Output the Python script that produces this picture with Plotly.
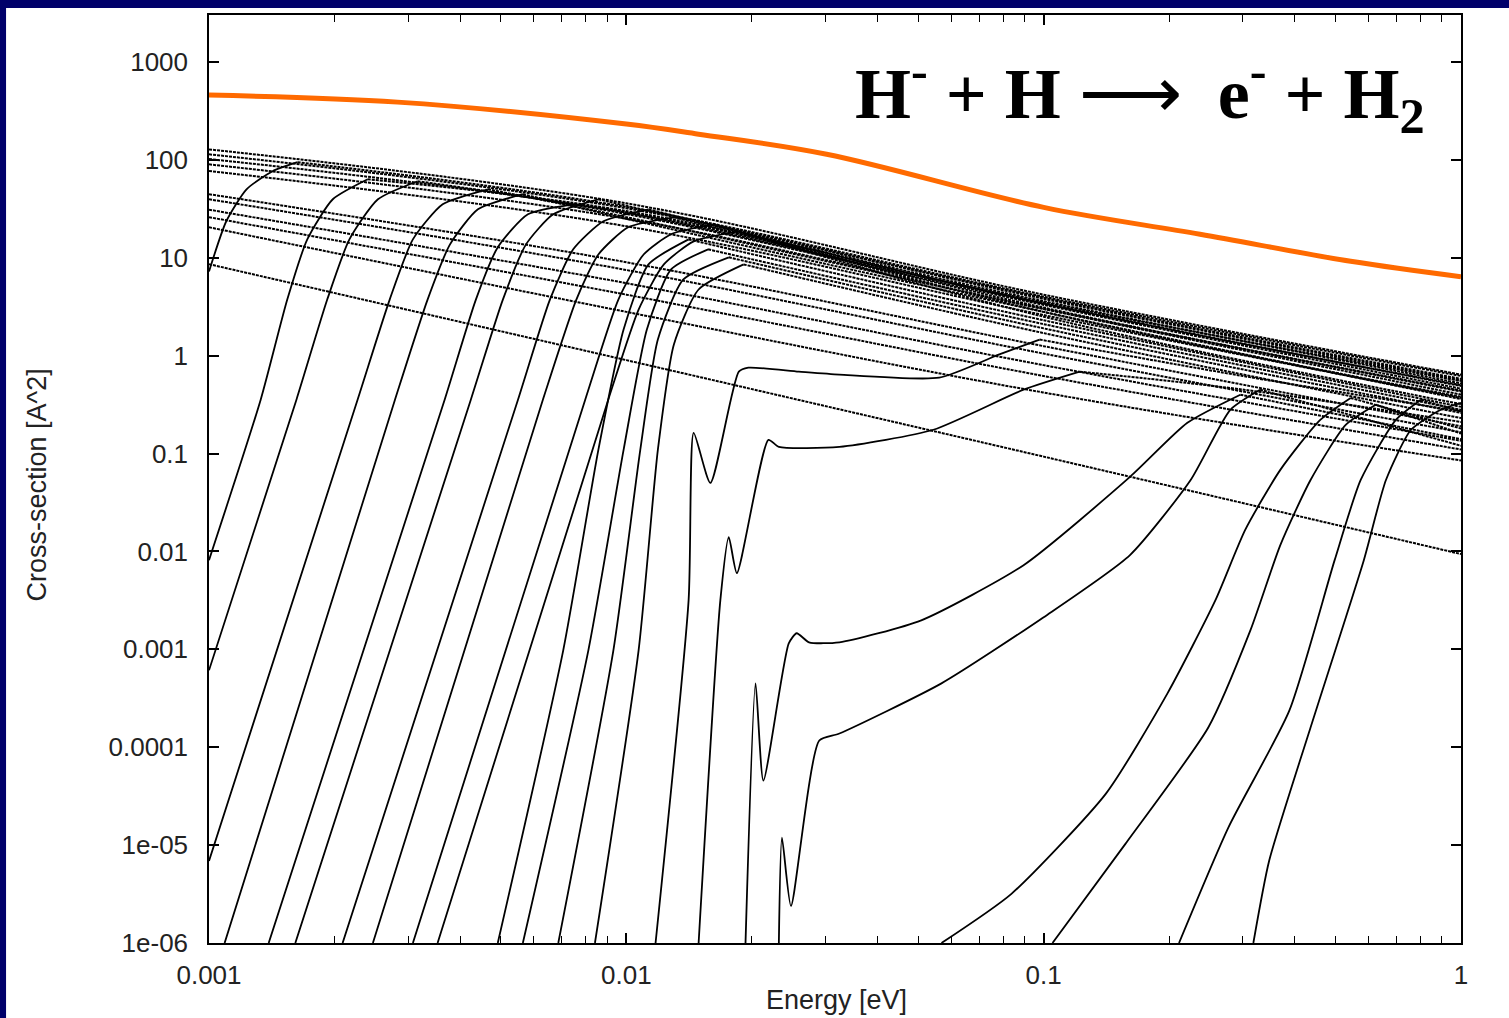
import math
import plotly.graph_objects as go

# ---------------- data (energy in eV, cross-section in A^2) ----------------
E_TOTAL = [0.001, 0.00283, 0.01, 0.0149, 0.0302, 0.1, 0.237, 0.544, 1.0]
SIG_TOTAL = [459, 389, 232, 183, 114, 32.7, 17.4, 9.2, 6.4]

# open-channel background lines (dashed), sampled at these energies
E_BAND = [0.001, 0.01, 0.1, 1.0]
SIG_BAND = [
    [128, 36, 4.2, 0.64],
    [114, 32, 3.8, 0.56],
    [102, 29, 3.4, 0.49],
    [90, 25, 3.0, 0.43],
    [77, 21, 2.6, 0.37],
    [44.6, 9.0, 1.25, 0.19],
    [39.6, 7.5, 1.05, 0.165],
    [31, 5.5, 0.8, 0.135],
    [26, 4.2, 0.62, 0.11],
    [20.5, 2.8, 0.42, 0.085],
    [8.6, 0.9, 0.093, 0.0094],
]

# threshold channels, low-energy group (solid rising part)
LEFT_E = [
    [0.001, 0.00110, 0.00123, 0.00142, 0.00163],
    [0.001, 0.00133, 0.00154, 0.00172, 0.00198, 0.00240],
    [0.001, 0.00162, 0.00192, 0.00217, 0.00254, 0.00316],
    [0.001, 0.00227, 0.00271, 0.00308, 0.00363, 0.00466],
    [0.00109, 0.00279, 0.00334, 0.00378, 0.00441, 0.00565],
    [0.00139, 0.00367, 0.00436, 0.00492, 0.00581, 0.00746],
    [0.00161, 0.00424, 0.00506, 0.00575, 0.00668, 0.00857],
    [0.00209, 0.0055, 0.00656, 0.00746, 0.00881, 0.0113],
    [0.00247, 0.00631, 0.00759, 0.00857, 0.0101, 0.0130],
    [0.00308, 0.00797, 0.00957, 0.0110, 0.0128, 0.0162],
    [0.00353, 0.00905, 0.0107, 0.0123, 0.0145, 0.0186],
    [0.00492, 0.00706, 0.00857, 0.00985, 0.0113, 0.0141],
    [0.00565, 0.00811, 0.00985, 0.0112, 0.0128, 0.0157],
    [0.00687, 0.00931, 0.0108, 0.0119, 0.0137, 0.0176],
    [0.00841, 0.0107, 0.0119, 0.0130, 0.0149, 0.0191],
]
LEFT_SIG = [
    [7.25, 23.6, 50.1, 76.6, 94.7],
    [0.00815, 0.355, 3.74, 15.4, 39.6, 63.4],
    [0.00061, 0.355, 3.74, 15.4, 39.6, 60.5],
    [6.9e-6, 0.355, 3.74, 15.4, 35.2, 50.1],
    [1e-6, 0.355, 3.74, 13.7, 31.3, 44.6],
    [1e-6, 0.355, 3.74, 12.8, 27.8, 35.2],
    [1e-6, 0.355, 3.74, 13.7, 27.8, 39.6],
    [1e-6, 0.355, 3.74, 12.2, 23.6, 31.3],
    [1e-6, 0.355, 3.74, 10.8, 20.5, 25.9],
    [1e-6, 0.355, 3.74, 10.8, 17.4, 21.9],
    [1e-6, 0.355, 2.96, 8.55, 14.7, 18.6],
    [1e-6, 0.000977, 0.109, 1.85, 8.55, 15.4],
    [1e-6, 0.000977, 0.109, 1.85, 7.6, 12.2],
    [1e-6, 0.000977, 0.109, 1.46, 6.0, 10.1],
    [1e-6, 0.000977, 0.109, 1.30, 4.74, 8.55],
]
LEFT_CONT_E = [
    [0.01, 0.1, 1], [0.01, 0.1, 1], [0.01, 0.1, 1], [0.01, 0.1, 1],
    [0.01, 0.1, 1], [0.01, 0.1, 1], [0.01, 0.1, 1],
    [0.1, 1], [0.1, 1], [0.1, 1], [0.1, 1], [0.1, 1], [0.1, 1], [0.1, 1], [0.1, 1],
]
LEFT_CONT_SIG = [
    [33, 4.0, 0.62], [30, 3.6, 0.52], [28, 3.3, 0.46], [26, 3.0, 0.40],
    [25, 2.8, 0.36], [29, 3.5, 0.55], [34, 3.9, 0.58],
    [3.4, 0.50], [3.1, 0.44], [2.8, 0.38], [2.5, 0.32], [2.3, 0.30],
    [2.1, 0.28], [1.9, 0.26], [1.7, 0.23],
]

# resonance channels (inside the red box)
BOX_E = [
    [0.01175, 0.0141, 0.0145, 0.0159, 0.0186, 0.0196, 0.0259, 0.0324, 0.0562, 0.0783, 0.0978],
    [0.0149, 0.0168, 0.0176, 0.0184, 0.0219, 0.0232, 0.0324, 0.0544, 0.0895, 0.122],
    [0.0193, 0.0204, 0.0213, 0.0245, 0.0256, 0.0274, 0.0324, 0.0509, 0.0895, 0.161, 0.221, 0.296],
    [0.0232, 0.0236, 0.0248, 0.0290, 0.0324, 0.0569, 0.1, 0.161, 0.225, 0.280, 0.330],
]
BOX_SIG = [
    [1e-6, 0.00318, 0.163, 0.0501, 0.686, 0.754, 0.686, 0.640, 0.596, 1.03, 1.46],
    [1e-6, 0.00318, 0.0140, 0.0060, 0.138, 0.117, 0.117, 0.175, 0.449, 0.686],
    [1e-6, 4.49e-4, 4.56e-5, 1.15e-3, 1.46e-3, 1.18e-3, 1.18e-3, 1.98e-3, 7.24e-3, 0.0577, 0.206, 0.399],
    [1e-6, 1.19e-5, 2.39e-6, 1.17e-4, 1.38e-4, 4.49e-4, 2.13e-3, 9.18e-3, 0.0537, 0.280, 0.449],
]
BOX_CONT_E = [[0.3, 1], [0.3, 1], [1], [1]]
BOX_CONT_SIG = [[0.62, 0.27], [0.45, 0.21], [0.14], [0.12]]

# high-energy threshold channels
RIGHT_E = [
    [0.0569, 0.0837, 0.141, 0.198, 0.258, 0.304, 0.369, 0.460, 0.544],
    [0.105, 0.157, 0.248, 0.313, 0.369, 0.436, 0.530, 0.625],
    [0.211, 0.277, 0.388, 0.498, 0.575, 0.698, 0.802],
    [0.318, 0.347, 0.436, 0.585, 0.661, 0.759, 0.895, 1.0],
]
RIGHT_SIG = [
    [1e-6, 3.18e-6, 3.36e-5, 3.55e-4, 3.18e-3, 0.0166, 0.0681, 0.221, 0.37],
    [1e-6, 1.03e-5, 1.59e-4, 1.57e-3, 0.0116, 0.0537, 0.197, 0.315],
    [1e-6, 1.51e-5, 2.38e-4, 8.15e-3, 0.0537, 0.221, 0.355],
    [1e-6, 6.92e-6, 1.59e-4, 8.15e-3, 0.0537, 0.175, 0.280, 0.33],
]
RIGHT_CONT_E = [[1], [1], [1], []]
RIGHT_CONT_SIG = [[0.18], [0.16], [0.27], []]

RED_BOX_E = [0.0126, 0.0292]
RED_BOX_SIG = [1.33e-6, 0.355]

Y_TICKS = [1000, 100, 10, 1, 0.1, 0.01, 0.001, 0.0001, 1e-5, 1e-6]
Y_TICK_TEXT = ["1000", "100", "10", "1", "0.1", "0.01", "0.001", "0.0001", "1e-05", "1e-06"]

# ---------------- figure ----------------
fig = go.Figure()
SOLID = dict(color="black", width=1.8)
DASHED = dict(color="black", width=2.0, dash="3px,1px")

for row in SIG_BAND:
    fig.add_trace(go.Scatter(x=E_BAND, y=row, mode="lines", line=dict(**DASHED, shape="spline"),
                             hoverinfo="skip"))

def add_channel(es, ss, ce, cs):
    fig.add_trace(go.Scatter(x=es, y=ss, mode="lines", line=dict(**SOLID, shape="spline", smoothing=0.6),
                             hoverinfo="skip"))
    if ce:
        fig.add_trace(go.Scatter(x=[es[-1]] + ce, y=[ss[-1]] + cs, mode="lines",
                                 line=dict(**DASHED, shape="spline"), hoverinfo="skip"))

for es, ss, ce, cs in zip(LEFT_E, LEFT_SIG, LEFT_CONT_E, LEFT_CONT_SIG):
    add_channel(es, ss, ce, cs)
for es, ss, ce, cs in zip(BOX_E, BOX_SIG, BOX_CONT_E, BOX_CONT_SIG):
    add_channel(es, ss, ce, cs)
for es, ss, ce, cs in zip(RIGHT_E, RIGHT_SIG, RIGHT_CONT_E, RIGHT_CONT_SIG):
    add_channel(es, ss, ce, cs)

fig.add_trace(go.Scatter(x=E_TOTAL, y=SIG_TOTAL, mode="lines",
                         line=dict(color="#ff6a00", width=5, shape="spline"), hoverinfo="skip"))

# empty trace so the mirrored top axis (with minor ticks) is drawn
fig.add_trace(go.Scatter(x=[], y=[], xaxis="x2", yaxis="y", hoverinfo="skip"))

NAVY = "#00006a"
TICKFONT = dict(family="Liberation Sans, Arial, sans-serif", size=26, color="#222222")
MINOR = dict(dtick="D1", ticks="inside", ticklen=7, tickcolor="black", tickwidth=1.3, showgrid=False)

fig.update_layout(
    width=1509, height=1018,
    margin=dict(l=209, r=48, t=15, b=75),
    paper_bgcolor="white", plot_bgcolor="white",
    showlegend=False,
    xaxis=dict(type="log", range=[-3, 0], tickmode="linear", tick0=0, dtick=1,
               ticks="inside", ticklen=10, tickwidth=1.5, tickcolor="black",
               showline=True, linecolor="black", linewidth=1.5, mirror=True,
               showgrid=False, zeroline=False, tickfont=TICKFONT, ticklabelstandoff=8,
               minor=MINOR),
    xaxis2=dict(type="log", range=[-3, 0], overlaying="x", side="top", tickmode="linear", tick0=0, dtick=1,
                showticklabels=False, ticks="inside", ticklen=10, tickwidth=1.5, tickcolor="black",
                showline=False, showgrid=False, zeroline=False, minor=MINOR),
    yaxis=dict(type="log", range=[-6, 3.48], tickvals=Y_TICKS, ticktext=Y_TICK_TEXT,
               ticks="inside", ticklen=10, tickwidth=1.5, tickcolor="black",
               showline=True, linecolor="black", linewidth=1.5, mirror="ticks",
               showgrid=False, zeroline=False, tickfont=TICKFONT, ticklabelstandoff=14),
    shapes=[
        dict(type="rect", xref="x", yref="y",
             x0=math.log10(RED_BOX_E[0]), x1=math.log10(RED_BOX_E[1]),
             y0=math.log10(RED_BOX_SIG[0]), y1=math.log10(RED_BOX_SIG[1]),
             line=dict(color="#ff0000", width=3)),
        dict(type="rect", xref="paper", yref="paper", x0=-0.17, x1=1.04, y0=1.0075, y1=1.02,
             fillcolor=NAVY, line=dict(width=0), layer="above"),
        dict(type="rect", xref="paper", yref="paper", x0=-0.17, x1=-0.1621, y0=-0.09, y1=1.02,
             fillcolor=NAVY, line=dict(width=0), layer="above"),
    ],
    annotations=[
        dict(text="<b>H<sup>-</sup> + H</b> ⟶  <b>e<sup>-</sup> + H<sub>2</sub></b>", xref="paper", yref="paper",
             x=0.7436, y=0.915, xanchor="center", yanchor="middle", showarrow=False,
             font=dict(family="Liberation Serif, Times New Roman, serif", size=72, color="black")),
        dict(text="Energy [eV]", xref="paper", yref="paper", x=0.5008, y=-0.0614,
             xanchor="center", yanchor="middle", showarrow=False,
             font=dict(family="Liberation Sans, Arial, sans-serif", size=27, color="#222222")),
        dict(text="Cross-section [A^2]", xref="paper", yref="paper", x=-0.137, y=0.4935,
             xanchor="center", yanchor="middle", showarrow=False, textangle=-90,
             font=dict(family="Liberation Sans, Arial, sans-serif", size=27, color="#222222")),
    ],
)

fig.write_html("out.html")
